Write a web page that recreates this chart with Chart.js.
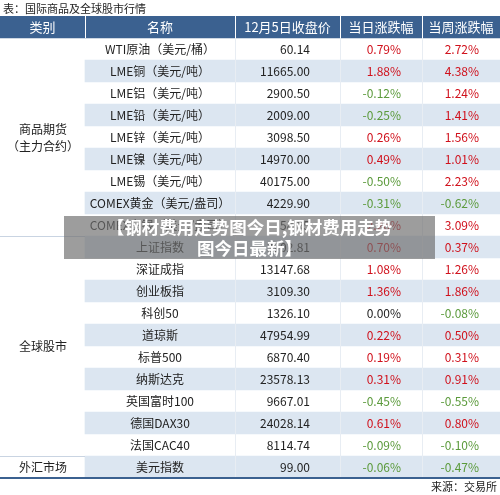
<!DOCTYPE html>
<html><head><meta charset="utf-8">
<script src="https://cdn.jsdelivr.net/npm/chart.js@4"></script>
<style>
body{margin:0;background:#fff;font-family:"Noto Sans CJK SC",sans-serif}
#wrap{position:relative;width:500px;height:495px}
#title{position:absolute;left:3px;top:0;font-size:11px;color:#222}
#src{position:absolute;right:3px;top:478px;font-size:11px;color:#222}
#mark{position:absolute;left:64px;top:216px;width:371px;height:43px;background:rgba(110,110,110,0.68);color:#fff;font-weight:bold;font-size:17.5px;line-height:21px;text-align:center;padding-top:0}
</style></head><body>
<div id="wrap">
<canvas id="chart" width="500" height="495"></canvas>
<div id="title">表：国际商品及全球股市行情</div>
<div id="src">来源：交易所</div>
<div id="mark">【钢材费用走势图今日,钢材费用走势<br>图今日最新】</div>
</div>
<script>
// table data
const headers = ['类别', '名称', '12月5日收盘价', '当日涨跌幅', '当周涨跌幅'];
const names = ['WTI原油（美元/桶）', 'LME铜（美元/吨）', 'LME铝（美元/吨）', 'LME铅（美元/吨）', 'LME锌（美元/吨）',
  'LME镍（美元/吨）', 'LME锡（美元/吨）', 'COMEX黄金（美元/盎司）', 'COMEX白银（美元/盎司）',
  '上证指数', '深证成指', '创业板指', '科创50', '道琼斯', '标普500', '纳斯达克', '英国富时100', '德国DAX30', '法国CAC40', '美元指数'];
const prices = ['60.14', '11665.00', '2900.50', '2009.00', '3098.50', '14970.00', '40175.00', '4229.90', '58.95',
  '3902.81', '13147.68', '3109.30', '1326.10', '47954.99', '6870.40', '23578.13', '9667.01', '24028.14', '8114.74', '99.00'];
const dayChg = [0.79, 1.88, -0.12, -0.25, 0.26, 0.49, -0.50, -0.31, 2.26, 0.70, 1.08, 1.36, 0.00, 0.22, 0.19, 0.31, -0.45, 0.61, -0.09, -0.06];
const weekChg = [2.72, 4.38, 1.24, 1.41, 1.56, 1.01, 2.23, -0.62, 3.09, 0.37, 1.26, 1.86, -0.08, 0.50, 0.31, 0.91, -0.55, 0.80, -0.10, -0.47];
const groups = [['商品期货', '（主力合约）', 0, 8], ['全球股市', '', 9, 18], ['外汇市场', '', 19, 19]];

const rowLabels = ['header'].concat(names);
const colEdges = [0, 85, 235, 340, 422, 500];
const BLUE = '#3b6190', BAND = '#dce6f1', RED = '#d0101b', GREEN = '#5b9a3b';

const bands = rowLabels.map((r, i) => i === 0 ? [0, 500] : (i % 2 === 0 ? [85, 500] : null));
const bandColors = rowLabels.map((r, i) => i === 0 ? BLUE : BAND);

const pct = v => (v < 0 ? '-' : '') + Math.abs(v).toFixed(2) + '%';
const col = v => v > 0 ? RED : (v < 0 ? GREEN : '#222');

const tablePlugin = {
  id: 'table',
  afterDatasetsDraw(chart) {
    const ctx = chart.ctx, x = chart.scales.x, y = chart.scales.y;
    const h = y.getPixelForValue(1) - y.getPixelForValue(0);
    const top = i => y.getPixelForValue(i) - h / 2;
    ctx.save();
    // header separators
    ctx.strokeStyle = '#fff';
    ctx.lineWidth = 1;
    for (let c = 1; c < 5; c++) {
      const px = Math.round(x.getPixelForValue(colEdges[c])) + 0.5;
      ctx.beginPath(); ctx.moveTo(px, top(0)); ctx.lineTo(px, top(1)); ctx.stroke();
    }
    // faint body separators
    ctx.strokeStyle = '#e8edf3';
    for (let c = 2; c < 5; c++) {
      const px = Math.round(x.getPixelForValue(colEdges[c])) + 0.5;
      ctx.beginPath(); ctx.moveTo(px, top(1)); ctx.lineTo(px, top(21)); ctx.stroke();
    }
    ctx.strokeStyle = '#c9d4e2';
    [10, 20].forEach(r => {
      const py = Math.round(top(r)) + 0.5;
      ctx.beginPath(); ctx.moveTo(x.getPixelForValue(0), py); ctx.lineTo(x.getPixelForValue(85), py); ctx.stroke();
    });
    ctx.strokeStyle = BLUE; ctx.lineWidth = 2;
    ctx.beginPath(); ctx.moveTo(0, top(21)); ctx.lineTo(500, top(21)); ctx.stroke();
    // header text
    ctx.textBaseline = 'middle';
    ctx.textAlign = 'center';
    ctx.fillStyle = '#fff';
    ctx.font = '13px "Noto Sans CJK SC"';
    headers.forEach((t, c) => ctx.fillText(t, x.getPixelForValue((colEdges[c] + colEdges[c + 1]) / 2), y.getPixelForValue(0)));
    // body
    ctx.font = '12px "Noto Sans CJK SC"';
    names.forEach((n, i) => {
      const cy = y.getPixelForValue(i + 1);
      ctx.textAlign = 'center'; ctx.fillStyle = '#222';
      ctx.fillText(n, x.getPixelForValue(160), cy);
      ctx.textAlign = 'right';
      ctx.fillText(prices[i], x.getPixelForValue(310), cy);
      ctx.fillStyle = col(dayChg[i]);
      ctx.fillText(pct(dayChg[i]), x.getPixelForValue(401), cy);
      ctx.fillStyle = col(weekChg[i]);
      ctx.fillText(pct(weekChg[i]), x.getPixelForValue(479), cy);
    });
    ctx.textAlign = 'center'; ctx.fillStyle = '#222';
    groups.forEach(([a, b, s, e]) => {
      const mid = (y.getPixelForValue(s + 1) + y.getPixelForValue(e + 1)) / 2;
      const cx = x.getPixelForValue(43);
      if (b) { ctx.fillText(a, cx, mid - 8); ctx.fillText(b, cx, mid + 9); }
      else ctx.fillText(a, cx, mid);
    });
    ctx.restore();
  }
};

new Chart(document.getElementById('chart'), {
  type: 'bar',
  data: {
    labels: rowLabels,
    datasets: [{ data: bands, backgroundColor: bandColors, categoryPercentage: 1, barPercentage: 1, borderWidth: 0 }]
  },
  options: {
    indexAxis: 'y',
    responsive: false,
    animation: false,
    layout: { padding: { top: 16, bottom: 17, left: 0, right: 0 } },
    plugins: { legend: { display: false }, tooltip: { enabled: false } },
    scales: {
      x: { type: 'linear', min: 0, max: 500, display: false },
      y: { display: false, grid: { display: false } }
    }
  },
  plugins: [tablePlugin]
});
</script>
</body></html>
